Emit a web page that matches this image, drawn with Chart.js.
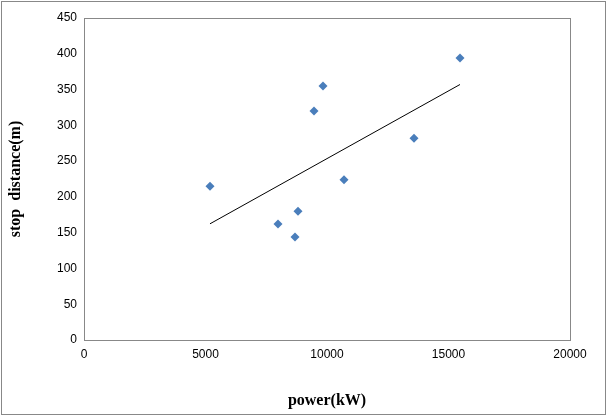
<!DOCTYPE html>
<html><head><script src="https://cdn.jsdelivr.net/npm/chart.js@4"></script>
<style>html,body{margin:0;padding:0;background:#fff}#wrap{position:absolute;left:1px;top:1px;width:603px;height:412px;border:1px solid #888;box-sizing:content-box}</style>
</head><body><div id="wrap"><canvas id="c" width="603" height="412"></canvas></div>
<script>
const powerKW=[5185,7984,8683,8807,9465,9835,10700,13580,15473];
const stopDistance=[215,162,144,180,320,355,224,282,394];
const n=powerKW.length;
const mx=powerKW.reduce((a,b)=>a+b)/n, my=stopDistance.reduce((a,b)=>a+b)/n;
let sxy=0,sxx=0;for(let i=0;i<n;i++){sxy+=(powerKW[i]-mx)*(stopDistance[i]-my);sxx+=(powerKW[i]-mx)**2;}
const b=sxy/sxx,a=my-b*mx;
const xmin=Math.min(...powerKW),xmax=Math.max(...powerKW);
const trend=[{x:xmin,y:a+b*xmin},{x:xmax,y:a+b*xmax}];
const pts=powerKW.map((x,i)=>({x,y:stopDistance[i]}));
const tickFont={family:'Liberation Sans',size:12};
const frame={id:'frame',afterDraw(c){const {ctx,chartArea:r}=c;ctx.save();ctx.strokeStyle='#888';ctx.lineWidth=1;ctx.strokeRect(r.left+0.5,r.top+0.5,r.width,r.height);ctx.restore();}};
new Chart(document.getElementById('c'),{type:'scatter',
data:{datasets:[
{data:pts,pointStyle:'rectRot',pointRadius:4.5,backgroundColor:'#4a7ebb',borderColor:'#4a7ebb',borderWidth:0},
{type:'line',data:trend,borderColor:'#000',borderWidth:1,pointRadius:0,fill:false}]},
options:{responsive:false,animation:false,layout:{padding:{top:16,right:35,left:0,bottom:0}},
plugins:{legend:{display:false},tooltip:{enabled:false}},
scales:{
x:{type:'linear',min:0,max:20000,afterFit(s){s.height=74;},ticks:{stepSize:5000,font:tickFont,color:'#000',callback:v=>String(v)},grid:{display:false,tickLength:4},border:{color:'#888'},
title:{display:true,text:'power(kW)',font:{family:'Liberation Serif',size:16,weight:'bold'},color:'#000',padding:{top:14}}},
y:{min:0,max:450,afterFit(s){s.width=82;},ticks:{stepSize:50,font:tickFont,color:'#000'},grid:{display:false,tickLength:4},border:{color:'#888'},
title:{display:true,text:'stop  distance(m)',font:{family:'Liberation Serif',size:16,weight:'bold'},color:'#000',padding:{bottom:14}}}}},
plugins:[frame]});
</script></body></html>
